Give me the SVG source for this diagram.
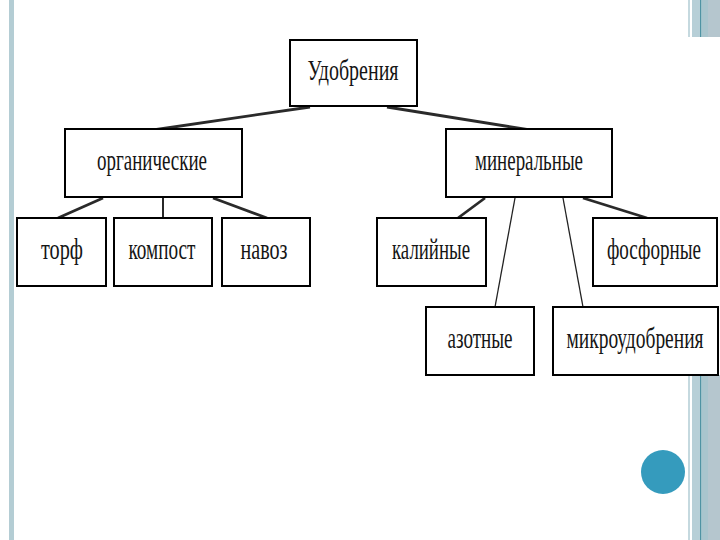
<svg xmlns="http://www.w3.org/2000/svg" width="720" height="540" viewBox="0 0 720 540">
<style>
.box{fill:#ffffff;stroke:#000000;stroke-width:2}
.lbl{font-family:"Liberation Serif","Times New Roman",serif;font-size:30px;fill:#151515;text-anchor:middle}
.thick{stroke:#2a2a2a;stroke-width:2.8;fill:none}
.mid{stroke:#111111;stroke-width:1.8;fill:none}
.thin{stroke:#222222;stroke-width:1.3;fill:none}
</style>
<rect x="0" y="0" width="720" height="540" fill="#ffffff"/>
<g id="decor">
<rect x="9" y="0" width="5" height="540" fill="#b4cdd4"/>
<g id="bars-top">
<rect x="688" y="0" width="2" height="37" fill="#c5d9df"/>
<rect x="692" y="0" width="8" height="37" fill="#b7cfd7"/>
<rect x="700" y="0" width="1.6" height="37" fill="#4f93a3"/>
<rect x="701.6" y="0" width="6.4" height="37" fill="#a9c5cd"/>
<rect x="708" y="0" width="12" height="37" fill="#b5c6ce"/>
</g>
<g id="bars-bottom">
<rect x="688" y="375" width="2" height="165" fill="#c5d9df"/>
<rect x="692" y="375" width="8" height="165" fill="#b7cfd7"/>
<rect x="700" y="375" width="1.6" height="165" fill="#4f93a3"/>
<rect x="701.6" y="375" width="6.4" height="165" fill="#a9c5cd"/>
<rect x="708" y="375" width="12" height="165" fill="#b5c6ce"/>
</g>
<circle cx="663" cy="472" r="22" fill="#359bbd"/>
</g>
<g id="connectors">
<line class="thick" x1="310" y1="107" x2="153" y2="130"/>
<line class="thick" x1="387" y1="107" x2="530" y2="130"/>
<line class="thick" x1="103" y1="198" x2="58" y2="218"/>
<line class="mid" x1="163" y1="198" x2="163" y2="218"/>
<line class="thick" x1="213" y1="198" x2="267" y2="218"/>
<line class="thick" x1="485" y1="198" x2="458" y2="218"/>
<line class="thin" x1="515" y1="198" x2="495" y2="307"/>
<line class="thin" x1="563" y1="198" x2="583" y2="307"/>
<line class="thick" x1="583" y1="198" x2="647" y2="218"/>
</g>
<g id="udobreniya">
<rect class="box" x="290" y="40" width="127" height="66"/>
<text class="lbl" x="353" y="80" textLength="91" lengthAdjust="spacingAndGlyphs">Удобрения</text>
</g>
<g id="organicheskie">
<rect class="box" x="65" y="129" width="177" height="68"/>
<text class="lbl" x="152" y="170" textLength="110" lengthAdjust="spacingAndGlyphs">органические</text>
</g>
<g id="mineralnye">
<rect class="box" x="446" y="129" width="166" height="68"/>
<text class="lbl" x="529" y="170" textLength="108" lengthAdjust="spacingAndGlyphs">минеральные</text>
</g>
<g id="torf">
<rect class="box" x="17" y="218" width="89" height="68"/>
<text class="lbl" x="62" y="259" textLength="42" lengthAdjust="spacingAndGlyphs">торф</text>
</g>
<g id="kompost">
<rect class="box" x="114" y="218" width="98" height="68"/>
<text class="lbl" x="162" y="259" textLength="67" lengthAdjust="spacingAndGlyphs">компост</text>
</g>
<g id="navoz">
<rect class="box" x="222" y="218" width="88" height="68"/>
<text class="lbl" x="264" y="259" textLength="47" lengthAdjust="spacingAndGlyphs">навоз</text>
</g>
<g id="kaliynye">
<rect class="box" x="377" y="218" width="109" height="68"/>
<text class="lbl" x="431" y="259" textLength="78" lengthAdjust="spacingAndGlyphs">калийные</text>
</g>
<g id="fosfornye">
<rect class="box" x="593" y="218" width="124" height="68"/>
<text class="lbl" x="654" y="259" textLength="94" lengthAdjust="spacingAndGlyphs">фосфорные</text>
</g>
<g id="azotnye">
<rect class="box" x="426" y="307" width="108" height="68"/>
<text class="lbl" x="480" y="348" textLength="65" lengthAdjust="spacingAndGlyphs">азотные</text>
</g>
<g id="mikroudobreniya">
<rect class="box" x="553" y="307" width="165" height="68"/>
<text class="lbl" x="635" y="348" textLength="137" lengthAdjust="spacingAndGlyphs">микроудобрения</text>
</g>
</svg>
